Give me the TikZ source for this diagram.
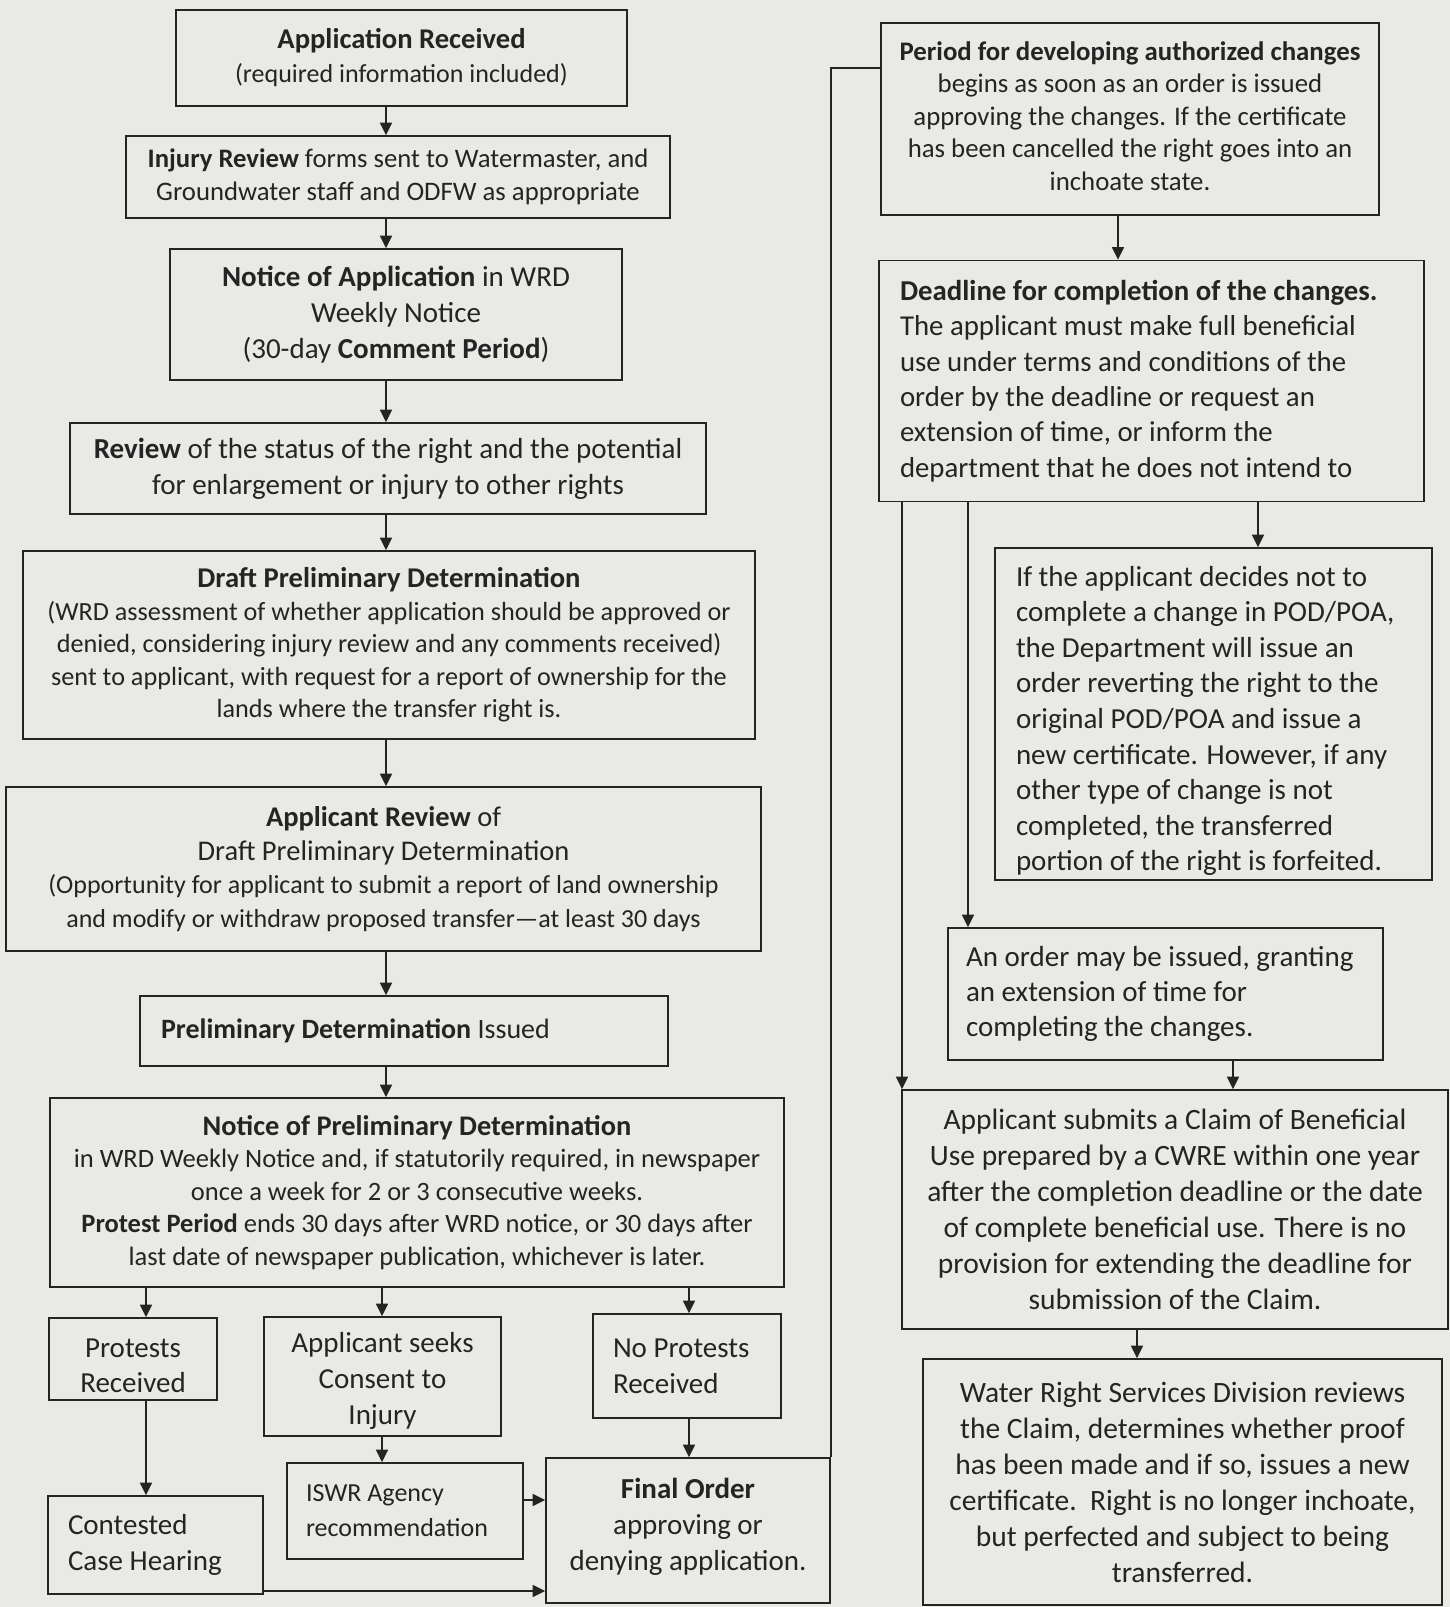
\documentclass[tikz,border=0pt]{standalone}
\usepackage{fontspec}
\setmainfont{Carlito}
\usetikzlibrary{arrows.meta}
\definecolor{bg}{RGB}{233,233,229}
\definecolor{ink}{RGB}{36,36,36}
\begin{document}
\begin{tikzpicture}[x=1pt,y=-1pt,
  box/.style={draw=ink, line width=1.8pt, rectangle, inner sep=0pt, text=ink, align=center},
  lbox/.style={box, align=flush left},
  txt/.style={inner sep=0pt, text=ink, align=center},
  ltxt/.style={txt, align=flush left},
  arr/.style={draw=ink, line width=1.6pt, -{Triangle[length=12.5pt,width=12pt]}},
  ln/.style={draw=ink, line width=1.6pt},
  fs/.style 2 args={font=\fontsize{#1}{#2}\selectfont}]
\fill[bg] (0,0) rectangle (1450,1607);
\useasboundingbox (0,0) rectangle (1450,1607);

% ---------------- left column ----------------
\node[box, fs={26}{34}, minimum width=451pt, minimum height=96pt] (app) at (401.5,58)
  {{\fontsize{28.6}{34}\selectfont\bfseries Application Received}\\(required information included)};
\node[box, fs={26.7}{33}, minimum width=544pt, minimum height=82pt] (inj) at (398,177)
  {\textbf{Injury Review} forms sent to Watermaster, and\\Groundwater staff and ODFW as appropriate};
\node[box, fs={29}{36}, minimum width=452pt, minimum height=131pt] (noa) at (396,314.5)
  {\textbf{Notice of Application} in WRD\\Weekly Notice\\(30-day \textbf{Comment Period})};
\node[box, fs={29}{36}, minimum width=636pt, minimum height=91pt] (rev) at (388,468.5)
  {\textbf{Review} of the status of the right and the potential\\for enlargement or injury to other rights};
\node[box, fs={26.2}{32.5}, minimum width=732pt, minimum height=188pt] (dpd) at (389,645)
  {{\fontsize{28.6}{32.5}\selectfont\bfseries Draft Preliminary Determination}\\
   (WRD assessment of whether application should be approved or\\
   denied, considering injury review and any comments received)\\
   sent to applicant, with request for a report of ownership for the\\
   lands where the transfer right is.};
\node[box, fs={26}{33.5}, minimum width=755pt, minimum height=164pt] (apr) at (383.5,869)
  {{\fontsize{28.5}{34}\selectfont\textbf{Applicant Review} of}\\
   {\fontsize{28.5}{34}\selectfont Draft Preliminary Determination}\\
   (Opportunity for applicant to submit a report of land ownership\\
   and modify or withdraw proposed transfer---at least 30 days};
\node[lbox, fs={28}{34}, text width=486pt, minimum width=528pt, minimum height=70pt] (pdi) at (404,1031)
  {\textbf{Preliminary Determination} Issued};
\node[box, fs={26.5}{32.5}, minimum width=734pt, minimum height=189pt] (npd) at (417,1192.5)
  {{\fontsize{28.4}{32.5}\selectfont\bfseries Notice of Preliminary Determination}\\
   in WRD Weekly Notice and, if statutorily required, in newspaper\\
   once a week for 2 or 3 consecutive weeks.\\
   \textbf{Protest Period} ends 30 days after WRD notice, or 30 days after\\
   last date of newspaper publication, whichever is later.};

\node[box, minimum width=168pt, minimum height=82pt] (prot) at (133,1359) {};
\node[txt, fs={29}{35}] (prott) at ([yshift=-7pt]prot.center) {Protests\\Received};
\node[box, minimum width=237pt, minimum height=119pt] (cons) at (382.5,1376.5) {};
\node[txt, fs={29}{36}] (const) at ([yshift=-4pt]cons.center) {Applicant seeks\\Consent to\\Injury};
\node[lbox, fs={29}{36}, text width=148pt, minimum width=188pt, minimum height=104pt] (nop) at (687,1366)
  {No Protests\\Received};
\node[lbox, fs={29}{36}, text width=175pt, minimum width=215pt, minimum height=98pt] (cch) at (155.5,1545)
  {Contested\\Case Hearing};
\node[lbox, fs={26}{35}, text width=198pt, minimum width=236pt, minimum height=96pt] (iswr) at (405,1511)
  {ISWR Agency\\recommendation};
\node[box, minimum width=284pt, minimum height=145pt] (fin) at (688,1530.5) {};
\node[txt, fs={29}{36}] (fint) at ([yshift=4pt]fin.center)
  {\textbf{Final Order}\\approving or\\denying application.};

% ---------------- right column ----------------
\node[box, minimum width=498pt, minimum height=192pt] (per) at (1130,119) {};
\node[txt, fs={26.8}{32.6}] (pert) at ([yshift=3pt]per.center)
  {\textbf{Period for developing authorized changes}\\
   begins as soon as an order is issued\\
   approving the changes. If the certificate\\
   has been cancelled the right goes into an\\
   inchoate state.};
\node[lbox, fs={28.8}{35.4}, text width=503pt, minimum width=545pt, minimum height=241pt] (ddl) at (1151.5,381)
  {\textbf{Deadline for completion of the changes.}\\
   The applicant must make full beneficial\\
   use under terms and conditions of the\\
   order by the deadline or request an\\
   extension of time, or inform the\\
   department that he does not intend to};
\node[box, minimum width=437pt, minimum height=332pt] (ifa) at (1213.5,714) {};
\node[ltxt, fs={29}{35.6}, text width=395pt] (ifat) at ([yshift=-7pt]ifa.center)
  {If the applicant decides not to\\
   complete a change in POD/POA,\\
   the Department will issue an\\
   order reverting the right to the\\
   original POD/POA and issue a\\
   new certificate. However, if any\\
   other type of change is not\\
   completed, the transferred\\
   portion of the right is forfeited.};
\node[lbox, fs={29}{35}, text width=399pt, minimum width=435pt, minimum height=132pt] (ord) at (1165.5,994)
  {An order may be issued, granting\\
   an extension of time for\\
   completing the changes.};
\node[box, fs={29.5}{36}, minimum width=546pt, minimum height=239pt] (sub) at (1175,1209.5)
  {Applicant submits a Claim of Beneficial\\
   Use prepared by a CWRE within one year\\
   after the completion deadline or the date\\
   of complete beneficial use. There is no\\
   provision for extending the deadline for\\
   submission of the Claim.};
\node[box, fs={29.5}{36}, minimum width=519pt, minimum height=246pt] (wrs) at (1182.5,1482)
  {Water Right Services Division reviews\\
   the Claim, determines whether proof\\
   has been made and if so, issues a new\\
   certificate.\ \ Right is no longer inchoate,\\
   but perfected and subject to being\\
   transferred.};

% ---------------- connector positions ----------------
\coordinate (xL) at (386,0);
\coordinate (xP) at (146,0);
\coordinate (xC) at (382,0);
\coordinate (xN) at (689,0);
\coordinate (yI) at (0,1500);
\coordinate (yH) at (0,1591);
\coordinate (yT) at (0,68);
\coordinate (xD) at (1118,0);
\coordinate (xA) at (902,0);
\coordinate (xO) at (968,0);
\coordinate (xF) at (1258,0);
\coordinate (xE) at (1233,0);
\coordinate (xW) at (1137,0);

% ---------------- connectors ----------------
\draw[arr] (app.south -| xL) -- (inj.north -| xL);
\draw[arr] (inj.south -| xL) -- (noa.north -| xL);
\draw[arr] (noa.south -| xL) -- (rev.north -| xL);
\draw[arr] (rev.south -| xL) -- (dpd.north -| xL);
\draw[arr] (dpd.south -| xL) -- (apr.north -| xL);
\draw[arr] (apr.south -| xL) -- (pdi.north -| xL);
\draw[arr] (pdi.south -| xL) -- (npd.north -| xL);
\draw[arr] (npd.south -| xP) -- (prot.north -| xP);
\draw[arr] (npd.south -| xC) -- (cons.north -| xC);
\draw[arr] (npd.south -| xN) -- (nop.north -| xN);
\draw[arr] (prot.south -| xP) -- (cch.north -| xP);
\draw[arr] (cons.south -| xC) -- (iswr.north -| xC);
\draw[arr] (nop.south -| xN) -- (fin.north -| xN);
\draw[arr] (iswr.east |- yI) -- (fin.west |- yI);
\draw[arr] (cch.east |- yH) -- (fin.west |- yH);
\draw[ln] (fin.north east) -- (fin.north east |- yT) -- (per.west |- yT);

\draw[arr] (per.south -| xD) -- (ddl.north -| xD);
\draw[arr] (ddl.south -| xA) -- (sub.north -| xA);
\draw[arr] (ddl.south -| xO) -- (ord.north -| xO);
\draw[arr] (ddl.south -| xF) -- (ifa.north -| xF);
\draw[arr] (ord.south -| xE) -- (sub.north -| xE);
\draw[arr] (sub.south -| xW) -- (wrs.north -| xW);
\end{tikzpicture}
\end{document}
